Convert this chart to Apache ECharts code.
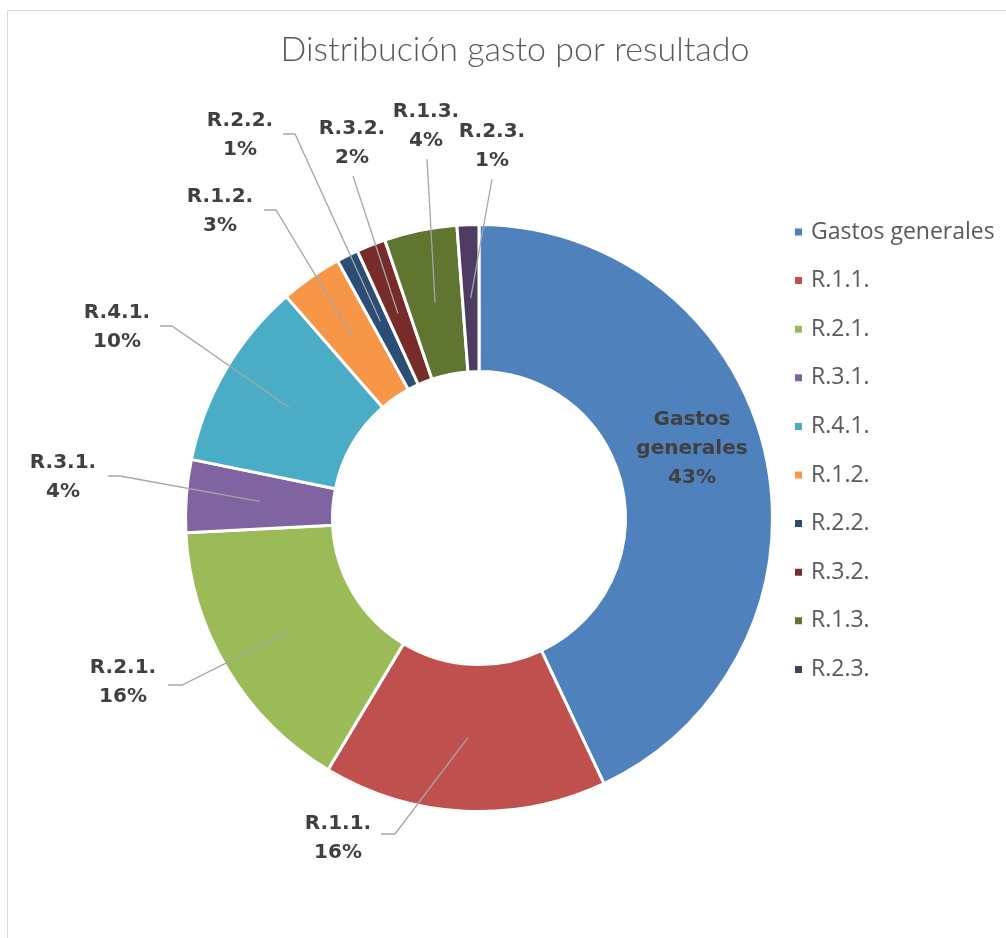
<!DOCTYPE html>
<html><head><meta charset="utf-8">
<script src="https://cdn.jsdelivr.net/npm/echarts@6/dist/echarts.min.js"></script>
<style>
html,body{margin:0;padding:0;background:#fff;overflow:hidden;}
#chart{position:absolute;left:0;top:0;width:1006px;height:938px;}
#frame{position:absolute;left:7px;top:10px;width:1010px;height:940px;border:1px solid #d9d9d9;pointer-events:none;}
</style></head><body>
<div id="chart"></div><div id="frame"></div>
<script>
// ---- data ----
const categories = ['Gastos generales','R.1.1.','R.2.1.','R.3.1.','R.4.1.','R.1.2.','R.2.2.','R.3.2.','R.1.3.','R.2.3.'];
const values = [43.0, 15.6, 15.6, 4.0, 10.4, 3.4, 1.2, 1.6, 4.0, 1.2];
const titleText = 'Distribución gasto por resultado';

// ---- styles / layout (not data) ----
const colors = ['#4F81BD','#C0504D','#9BBB59','#8064A2','#4BACC6','#F79646','#2C4D75','#772C2A','#5F7530','#4D3B62'];
const CX = 479, CY = 518, R_IN = 148, R_OUT = 292;
const labelCenters = [[692,449],[338,838],[123,682],[63,477],[117,327],[220,211],[240,135],[352,143],[426,126],[492,146]];
const leaderEnds = [
  null,
  [[395,834],[381,834]],
  [[182,685],[168,685]],
  [[120,476],[108,476]],
  [[172,326],[160,326]],
  [[276,210],[264,210]],
  [[295,134],[283,134]],
  [[353,176]],
  [[427,159]],
  [[492,179]]
];

const total = values.reduce((a,b)=>a+b,0);
const anchors = [];
(function(){
  let cum = 0;
  const rMid = (R_IN + R_OUT) / 2;
  values.forEach(v => {
    const th = 2*Math.PI*(cum + v/2)/total;
    anchors.push([CX + rMid*Math.sin(th), CY - rMid*Math.cos(th)]);
    cum += v;
  });
})();

const chart = echarts.init(document.getElementById('chart'), null, {renderer:'canvas'});

const ringData = categories.map((c,i)=>({name:c, value:values[i], itemStyle:{color:colors[i]}}));
const labelData = categories.map((c,i)=>{
  const d = {name:c, value:values[i]};
  if (i === 0) {
    d.label = {position:'inside'};
    d.labelLine = {show:false};
  }
  return d;
});

const common = {
  type:'pie',
  center:[CX, CY],
  radius:[R_IN-1.5, R_OUT+1.5],
  startAngle:90,
  clockwise:true,
  avoidLabelOverlap:false,
  emphasis:{disabled:true},
  silent:true
};

chart.setOption({
  animation:false,
  backgroundColor:'#ffffff',
  title:{
    text:titleText, left:510, top:28, textAlign:'center',
    textStyle:{fontFamily:'Lato', fontWeight:300, fontSize:34, color:'#595959'}
  },
  legend:{
    orient:'vertical', left:788, top:215.5,
    icon:'rect', itemWidth:9, itemHeight:9, itemGap:25.6,
    textStyle:{fontFamily:'Open Sans', fontSize:23, color:'#595959', lineHeight:22, padding:[0,0,0,3]},
    data:categories
  },
  series:[
    Object.assign({}, common, {
      name:'ring', z:2,
      itemStyle:{borderColor:'#ffffff', borderWidth:3},
      label:{show:false}, labelLine:{show:false},
      data:ringData
    }),
    Object.assign({}, common, {
      name:'labels', z:5, legendHoverLink:false,
      itemStyle:{color:'rgba(0,0,0,0)', borderWidth:0},
      label:{
        show:true, position:'outside',
        fontFamily:'DejaVu Sans', fontWeight:'bold', fontSize:20, lineHeight:29, color:'#404040',
        align:'center',
        formatter: p => {
          const pct = Math.round(p.value/total*100) + '%';
          return (p.dataIndex === 0 ? 'Gastos\ngenerales' : p.name) + '\n' + pct;
        }
      },
      labelLine:{show:true, showAbove:true, length:10, length2:10, lineStyle:{color:'#a6a6a6', width:1.3}},
      labelLayout: function(params){
        const i = params.dataIndex;
        const c = labelCenters[i];
        const out = {x:c[0], y:c[1], align:'center', verticalAlign:'middle'};
        if (leaderEnds[i]) {
          out.labelLinePoints = [anchors[i]].concat(leaderEnds[i]);
        }
        return out;
      },
      data:labelData
    })
  ]
});
</script>
</body></html>
